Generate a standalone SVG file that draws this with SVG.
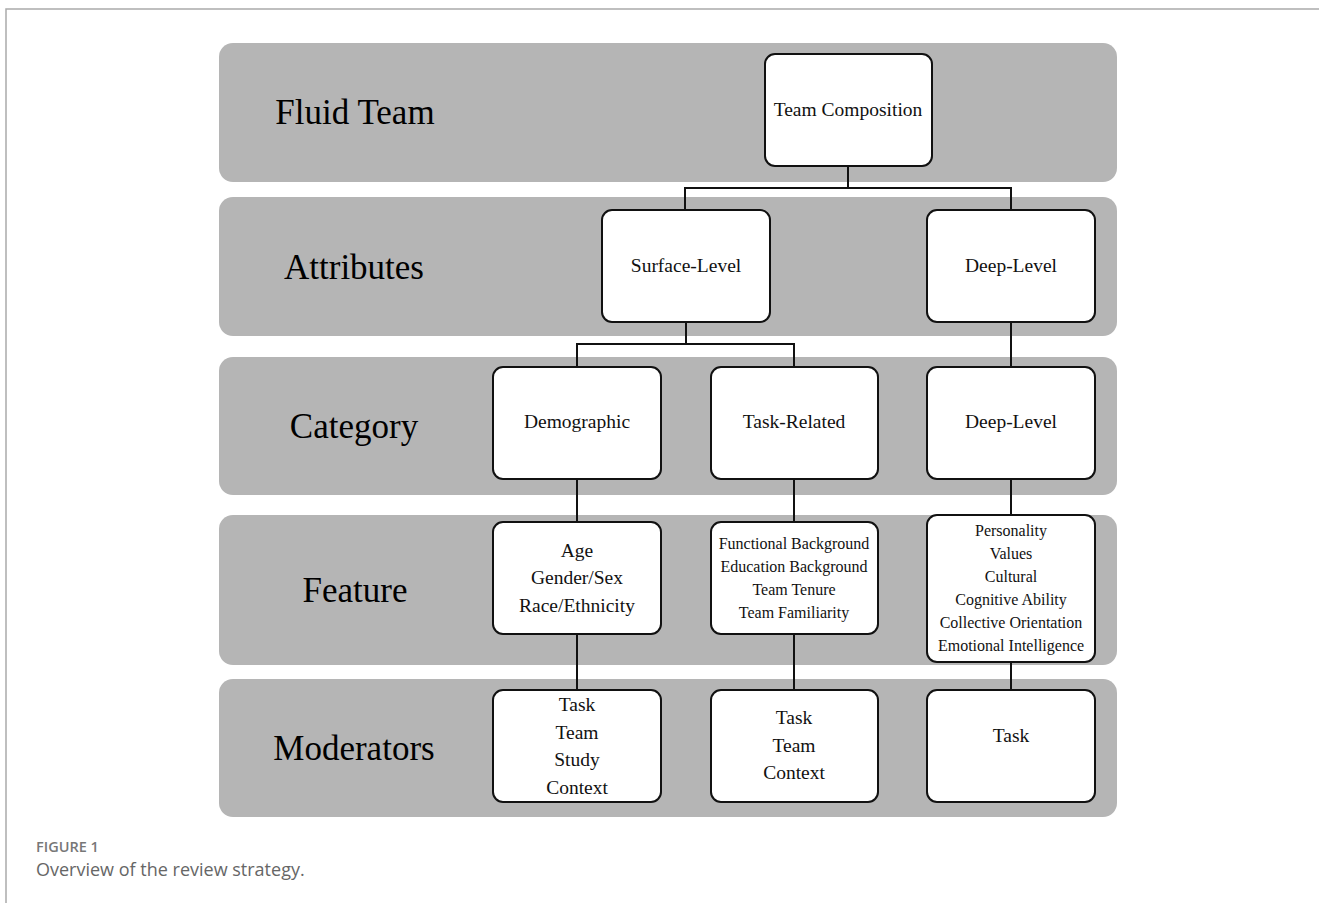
<svg xmlns="http://www.w3.org/2000/svg" width="1319" height="903" viewBox="0 0 1319 903">
  <style>
    .band { fill: #b5b5b5; }
    .node { fill: #ffffff; stroke: #111111; stroke-width: 2; }
    .lbl { font-family: "Liberation Serif", "Times New Roman", serif; font-size: 35px; fill: #000; text-anchor: middle; }
    .t { font-family: "Liberation Serif", "Times New Roman", serif; font-size: 19.5px; fill: #111; text-anchor: middle; }
    .t2 { font-family: "Liberation Serif", "Times New Roman", serif; font-size: 19.5px; fill: #111; text-anchor: middle; }
    .t3 { font-family: "Liberation Serif", "Times New Roman", serif; font-size: 16px; fill: #111; text-anchor: middle; }
    .conn { fill: none; stroke: #111111; stroke-width: 2; }
  </style>
  <rect width="1319" height="903" fill="#ffffff"/>
  <!-- frame -->
  <path d="M6,903 V9 H1319" fill="none" stroke="#aaaaaa" stroke-width="1.5"/>

  <!-- level bands -->
  <g id="bands">
    <rect class="band" x="219" y="43" width="898" height="139" rx="14"/>
    <rect class="band" x="219" y="197" width="898" height="139" rx="14"/>
    <rect class="band" x="219" y="357" width="898" height="138" rx="14"/>
    <rect class="band" x="219" y="515" width="898" height="150" rx="14"/>
    <rect class="band" x="219" y="679" width="898" height="138" rx="14"/>
    <text class="lbl" x="355" y="124">Fluid Team</text>
    <text class="lbl" x="354" y="279">Attributes</text>
    <text class="lbl" x="354" y="438">Category</text>
    <text class="lbl" x="355" y="602">Feature</text>
    <text class="lbl" x="354" y="760">Moderators</text>
  </g>

  <!-- connectors -->
  <g id="connectors">
    <path class="conn" d="M848,166 V188 M685,210 V188 H1011 V210"/>
    <path class="conn" d="M686,322 V344 M577,367 V344 H794 V367"/>
    <path class="conn" d="M1011,322 V367"/>
    <path class="conn" d="M577,479 V522 M794,479 V522 M1011,479 V515"/>
    <path class="conn" d="M577,634 V690 M794,634 V690 M1011,662 V690"/>
  </g>

  <g id="team-composition">
    <rect class="node" x="765" y="54" width="167" height="112" rx="10"/>
    <text class="t" x="848" y="116">Team Composition</text>
  </g>
  <g id="surface-level">
    <rect class="node" x="602" y="210" width="168" height="112" rx="10"/>
    <text class="t" x="686" y="272">Surface-Level</text>
  </g>
  <g id="deep-level-attr">
    <rect class="node" x="927" y="210" width="168" height="112" rx="10"/>
    <text class="t" x="1011" y="272">Deep-Level</text>
  </g>
  <g id="demographic">
    <rect class="node" x="493" y="367" width="168" height="112" rx="10"/>
    <text class="t" x="577" y="428">Demographic</text>
  </g>
  <g id="task-related">
    <rect class="node" x="711" y="367" width="167" height="112" rx="10"/>
    <text class="t" x="794" y="428">Task-Related</text>
  </g>
  <g id="deep-level-cat">
    <rect class="node" x="927" y="367" width="168" height="112" rx="10"/>
    <text class="t" x="1011" y="428">Deep-Level</text>
  </g>
  <g id="demographic-features">
    <rect class="node" x="493" y="522" width="168" height="112" rx="10"/>
    <text class="t2" x="577" y="557">Age</text>
    <text class="t2" x="577" y="584">Gender/Sex</text>
    <text class="t2" x="577" y="612">Race/Ethnicity</text>
  </g>
  <g id="task-features">
    <rect class="node" x="711" y="522" width="167" height="112" rx="10"/>
    <text class="t3" x="794" y="549">Functional Background</text>
    <text class="t3" x="794" y="572">Education Background</text>
    <text class="t3" x="794" y="595">Team Tenure</text>
    <text class="t3" x="794" y="618">Team Familiarity</text>
  </g>
  <g id="deep-features">
    <rect class="node" x="927" y="515" width="168" height="147" rx="10"/>
    <text class="t3" x="1011" y="536">Personality</text>
    <text class="t3" x="1011" y="559">Values</text>
    <text class="t3" x="1011" y="582">Cultural</text>
    <text class="t3" x="1011" y="605">Cognitive Ability</text>
    <text class="t3" x="1011" y="628">Collective Orientation</text>
    <text class="t3" x="1011" y="651">Emotional Intelligence</text>
  </g>
  <g id="demographic-moderators">
    <rect class="node" x="493" y="690" width="168" height="112" rx="10"/>
    <text class="t2" x="577" y="711">Task</text>
    <text class="t2" x="577" y="739">Team</text>
    <text class="t2" x="577" y="766">Study</text>
    <text class="t2" x="577" y="794">Context</text>
  </g>
  <g id="task-moderators">
    <rect class="node" x="711" y="690" width="167" height="112" rx="10"/>
    <text class="t2" x="794" y="724">Task</text>
    <text class="t2" x="794" y="752">Team</text>
    <text class="t2" x="794" y="779">Context</text>
  </g>
  <g id="deep-moderators">
    <rect class="node" x="927" y="690" width="168" height="112" rx="10"/>
    <text class="t2" x="1011" y="742">Task</text>
  </g>

  <!-- caption -->
  <g id="caption">
    <text x="36" y="852" font-family="'Open Sans', 'Noto Sans', sans-serif" font-size="14.5" font-weight="600" fill="#777777">FIGURE 1</text>
    <text x="36" y="876" font-family="'Open Sans', 'Noto Sans', sans-serif" font-size="18" fill="#666666">Overview of the review strategy.</text>
  </g>
</svg>
